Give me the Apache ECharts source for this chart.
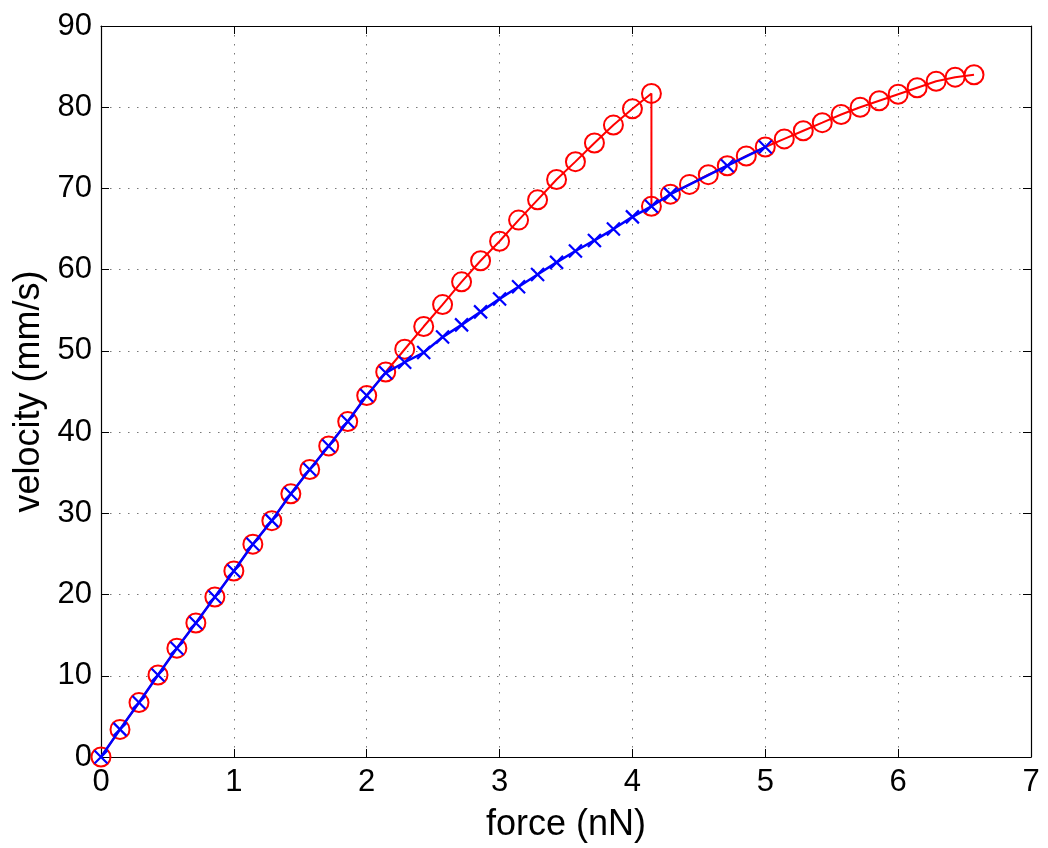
<!DOCTYPE html>
<html>
<head>
<meta charset="utf-8">
<title>force vs velocity</title>
<script src="https://cdn.jsdelivr.net/npm/echarts@6/dist/echarts.min.js"></script>
<style>
  html, body { margin: 0; padding: 0; background: #fff; }
  #chart { width: 1048px; height: 848px; }
</style>
</head>
<body>
<div id="chart"></div>
<script>
// red run (circles): up to 4.14 nN, then drop and continue
var redForce = [0, 0.143, 0.286, 0.429, 0.571, 0.714, 0.857, 1.0, 1.143, 1.286,
  1.429, 1.571, 1.714, 1.857, 2.0, 2.143, 2.286, 2.429, 2.571, 2.714,
  2.857, 3.0, 3.143, 3.286, 3.429, 3.571, 3.714, 3.857, 4.0, 4.143,
  4.143, 4.286, 4.429, 4.571, 4.714, 4.857, 5.0, 5.143, 5.286, 5.429,
  5.571, 5.714, 5.857, 6.0, 6.143, 6.286, 6.429, 6.571];
var redVelocity = [0, 3.4, 6.7, 10.1, 13.4, 16.5, 19.7, 22.9, 26.2, 29.1,
  32.4, 35.4, 38.3, 41.3, 44.5, 47.4, 50.2, 53.0, 55.7, 58.5,
  61.1, 63.5, 66.1, 68.6, 71.1, 73.3, 75.6, 77.8, 79.8, 81.7,
  67.8, 69.3, 70.5, 71.7, 72.8, 74.0, 75.1, 76.1, 77.1, 78.1,
  79.1, 80.0, 80.8, 81.6, 82.4, 83.2, 83.7, 84.0];

// blue run (crosses)
var blueForce = [0, 0.143, 0.286, 0.429, 0.571, 0.714, 0.857, 1.0, 1.143, 1.286,
  1.429, 1.571, 1.714, 1.857, 2.0, 2.143, 2.286, 2.429, 2.571, 2.714,
  2.857, 3.0, 3.143, 3.286, 3.429, 3.571, 3.714, 3.857, 4.0, 4.143,
  4.286, 4.714, 5.0];
var blueVelocity = [0, 3.4, 6.7, 10.1, 13.4, 16.5, 19.7, 22.9, 26.2, 29.1,
  32.4, 35.4, 38.3, 41.3, 44.5, 47.3, 48.6, 49.8, 51.7, 53.2,
  54.8, 56.4, 57.9, 59.4, 60.9, 62.3, 63.6, 65.0, 66.5, 67.8,
  69.3, 72.8, 75.1];

function pairs(xs, ys) {
  var out = [];
  for (var i = 0; i < xs.length; i++) out.push([xs[i], ys[i]]);
  return out;
}

var font = 'Liberation Sans, Arial, Helvetica, sans-serif';
var gridLine = { show: true, lineStyle: { color: '#777', width: 1, type: [1.5, 7.5] } };
var boxLine = { show: true, onZero: false, lineStyle: { color: '#000', width: 1.2 } };
var tick = { show: true, inside: true, length: 8, lineStyle: { color: '#000', width: 1 } };

var chart = echarts.init(document.getElementById('chart'), null, { renderer: 'canvas' });

chart.setOption({
  animation: false,
  backgroundColor: '#fff',
  grid: { left: 101, right: 17, top: 26, bottom: 89, containLabel: false },
  xAxis: [{
    type: 'value', min: 0, max: 7, interval: 1, position: 'bottom',
    name: 'force (nN)', nameLocation: 'middle', nameGap: 50,
    nameTextStyle: { fontFamily: font, fontSize: 36, color: '#000' },
    axisLine: boxLine, axisTick: tick,
    axisLabel: { fontFamily: font, fontSize: 31, color: '#000', margin: 10 },
    splitLine: gridLine
  }, {
    type: 'value', min: 0, max: 7, interval: 1, position: 'top',
    axisLine: boxLine, axisTick: tick,
    axisLabel: { show: false }, splitLine: { show: false }
  }],
  yAxis: [{
    type: 'value', min: 0, max: 90, interval: 10, position: 'left',
    name: 'velocity (mm/s)', nameLocation: 'middle', nameGap: 53, nameRotate: 90,
    nameTextStyle: { fontFamily: font, fontSize: 36, color: '#000' },
    axisLine: boxLine, axisTick: tick,
    axisLabel: { fontFamily: font, fontSize: 31, color: '#000', margin: 9 },
    splitLine: gridLine
  }, {
    type: 'value', min: 0, max: 90, interval: 10, position: 'right',
    axisLine: boxLine, axisTick: tick,
    axisLabel: { show: false }, splitLine: { show: false }
  }],
  series: [{
    type: 'line',
    data: pairs(redForce, redVelocity),
    showAllSymbol: true,
    symbol: 'circle', symbolSize: 19,
    itemStyle: { color: 'rgba(0,0,0,0)', borderColor: '#ff0000', borderWidth: 2 },
    lineStyle: { color: '#ff0000', width: 2 },
    z: 3
  }, {
    type: 'line',
    data: pairs(blueForce, blueVelocity),
    showAllSymbol: true,
    symbol: 'path://M0,0L10,10M10,0L0,10', symbolSize: 13, symbolKeepAspect: true,
    itemStyle: { color: 'rgba(0,0,0,0)', borderColor: '#0000ff', borderWidth: 2.2 },
    lineStyle: { color: '#0000ff', width: 2.5 },
    z: 4
  }]
});
</script>
</body>
</html>
